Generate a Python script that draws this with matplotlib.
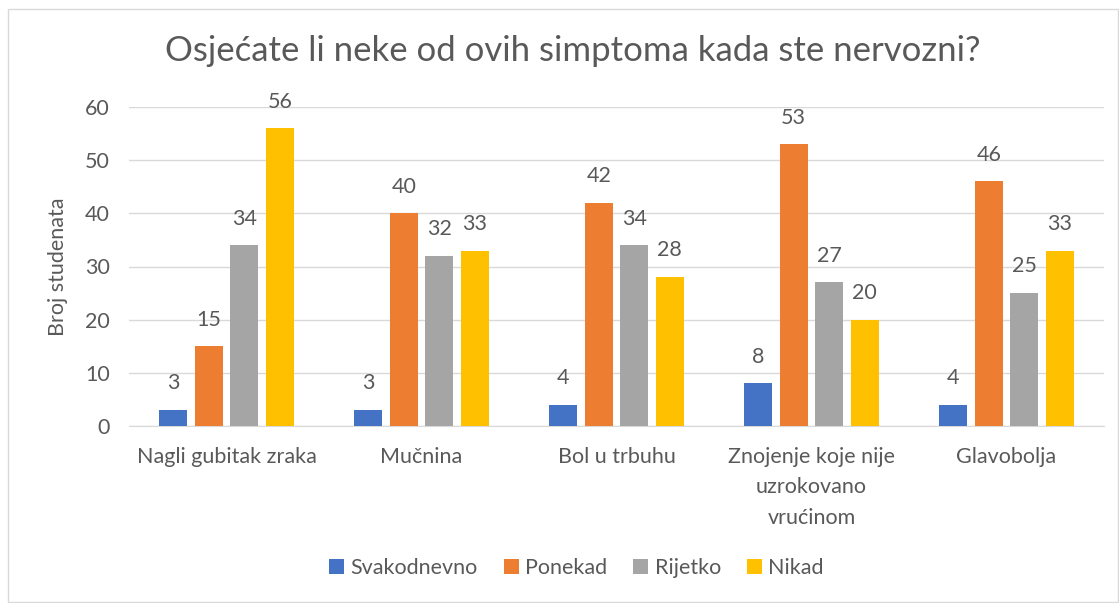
import matplotlib.pyplot as plt
import numpy as np

plt.rcParams['font.family'] = ['Lato', 'DejaVu Sans']

# data
categories = ['Nagli gubitak zraka', 'Mučnina', 'Bol u trbuhu',
              'Znojenje koje nije\nuzrokovano\nvrućinom', 'Glavobolja']
series_names = ['Svakodnevno', 'Ponekad', 'Rijetko', 'Nikad']
svakodnevno = [3, 3, 4, 8, 4]
ponekad = [15, 40, 42, 53, 46]
rijetko = [34, 32, 34, 27, 25]
nikad = [56, 33, 28, 20, 33]
colors = ['#4472C4', '#ED7D31', '#A5A5A5', '#FFC000']

text_col = '#595959'
fs = 15.5
fig = plt.figure(figsize=(11.19, 6.03), dpi=100)
ax = fig.add_axes([129/1119, 1 - 426/603, (1104 - 129)/1119, (426 - 107)/603])

x = np.arange(len(categories))
width = 0.144
pitch = 0.182
all_series = [svakodnevno, ponekad, rijetko, nikad]
for i, (vals, name, c) in enumerate(zip(all_series, series_names, colors)):
    pos = x + (i - 1.5) * pitch
    bars = ax.bar(pos, vals, width, color=c, label=name, zorder=3)
    ax.bar_label(bars, padding=12, fontsize=fs, color=text_col)

ax.set_xlim(-0.5, len(categories) - 0.5)
ax.set_ylim(0, 60)
ax.set_yticks(range(0, 61, 10))
ax.grid(axis='y', color='#D9D9D9', linewidth=1, zorder=0)
for s in ['top', 'right', 'left']:
    ax.spines[s].set_visible(False)
ax.spines['bottom'].set_color('#D9D9D9')
ax.tick_params(length=0, labelsize=fs, labelcolor=text_col)
ax.tick_params(axis='y', pad=14)
ax.tick_params(axis='x', pad=15)
ax.set_xticks(x)
ax.set_xticklabels(categories, linespacing=1.65)
ax.set_ylabel('Broj studenata', fontsize=fs, color=text_col, labelpad=12)

fig.text(0.512, 1 - 51/603, 'Osjećate li neke od ovih simptoma kada ste nervozni?',
         ha='center', va='center', fontsize=25, color=text_col)

fig.legend(loc='center', bbox_to_anchor=(0.515, 1 - 568/603), ncol=4, frameon=False,
           fontsize=fs, labelcolor=text_col, handlelength=0.7, handleheight=0.7,
           handletextpad=0.3, columnspacing=1.2)

border = plt.Rectangle((8/1119, 0.002), 1 - 9/1119, 1 - 10/603, transform=fig.transFigure,
                       fill=False, edgecolor='#D9D9D9', linewidth=1)
fig.add_artist(border)

fig.savefig('out.png', dpi=100)
